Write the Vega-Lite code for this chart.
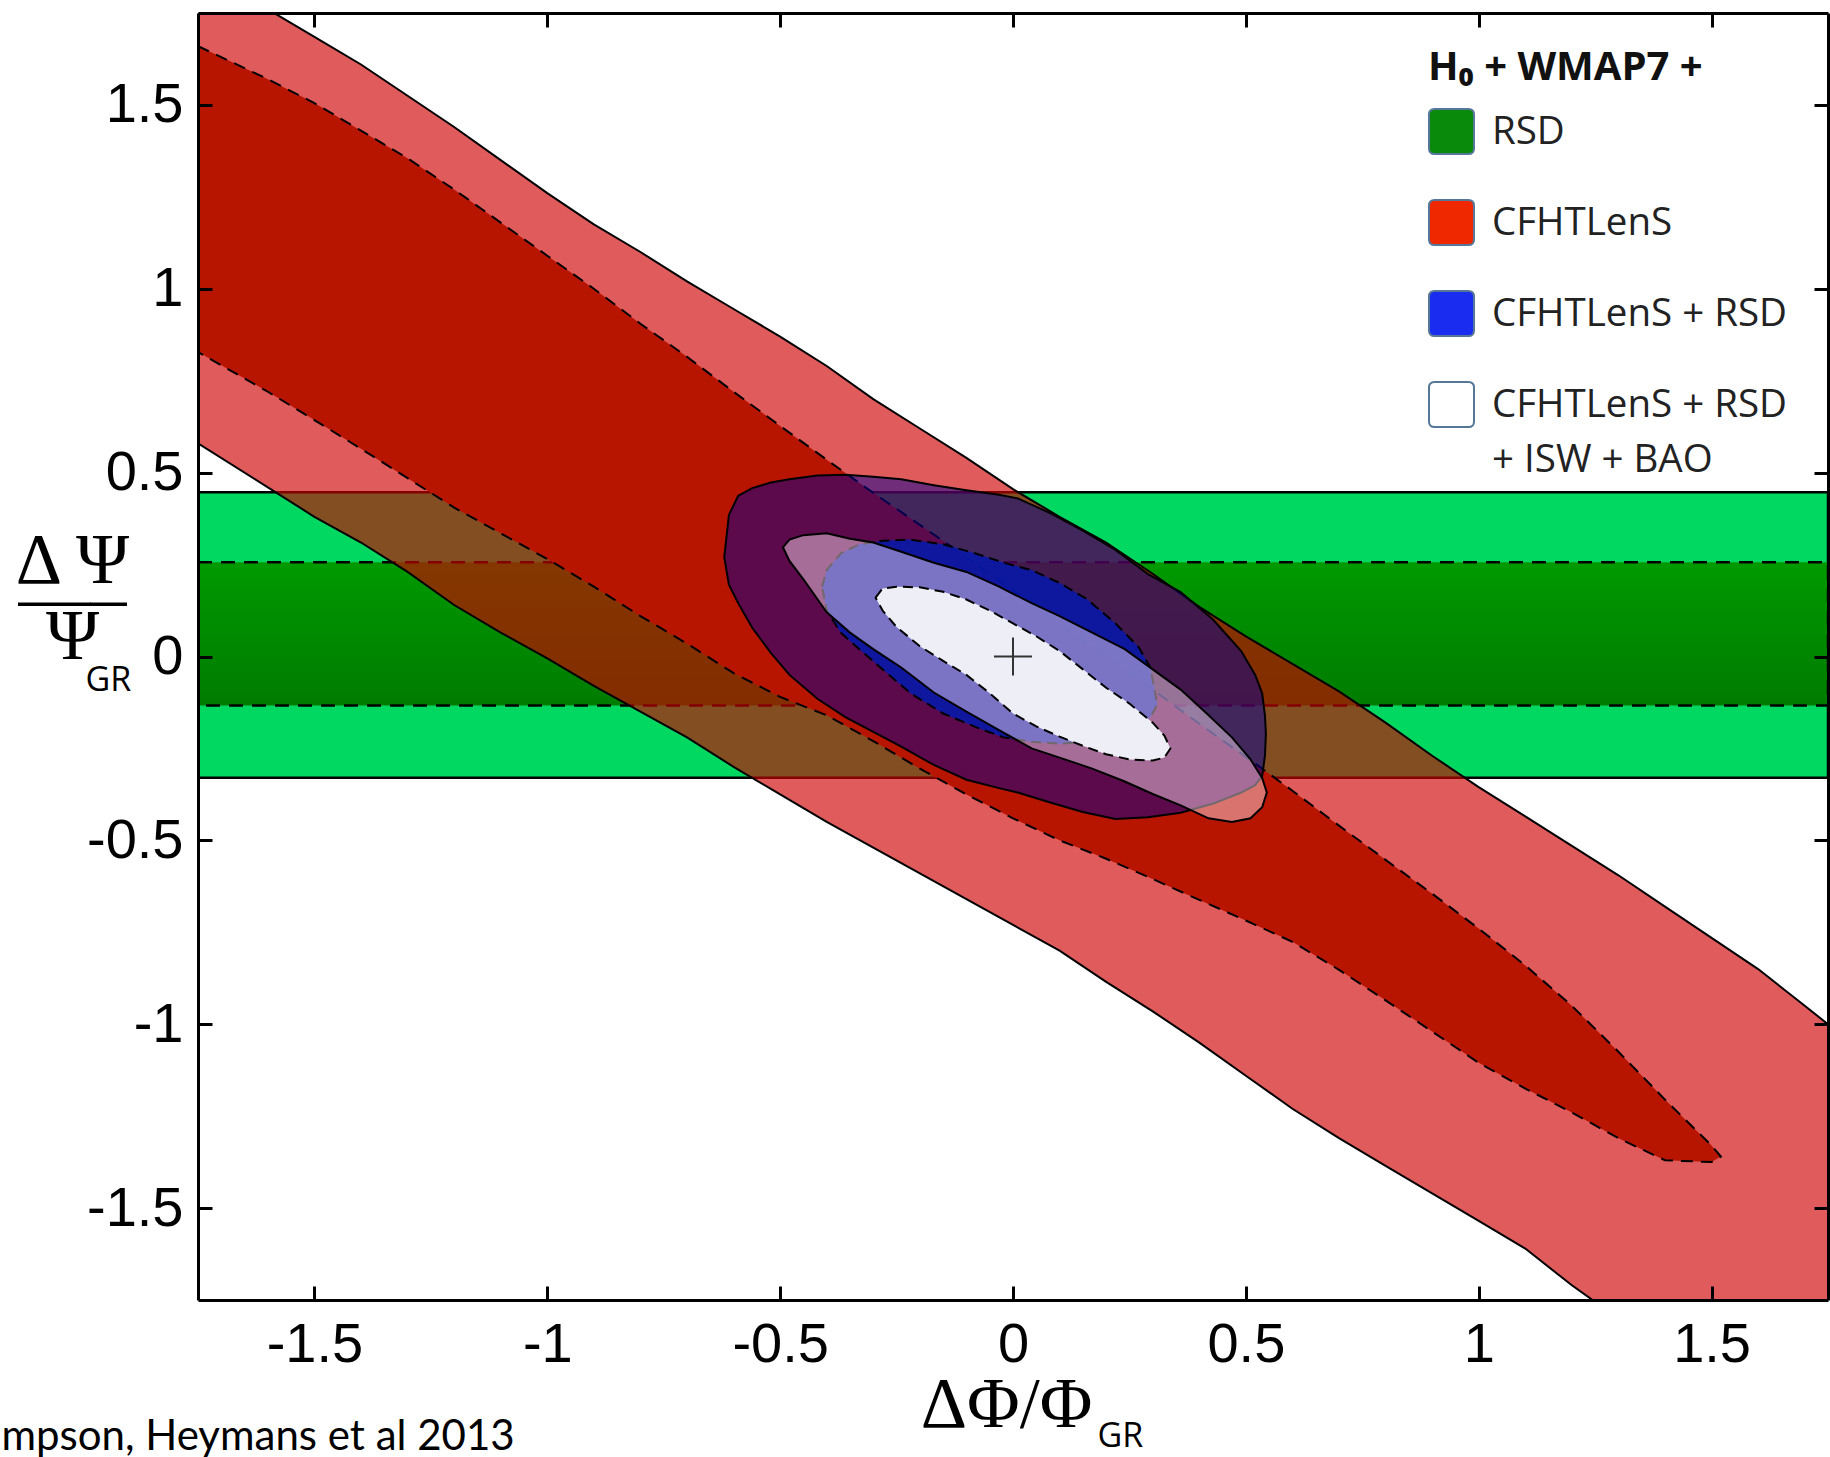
{
  "$schema": "https://vega.github.io/schema/vega-lite/v6.json",
  "width": 1630,
  "height": 1287,
  "autosize": {"type": "none"},
  "padding": {"left": 198, "top": 13, "right": 2, "bottom": 157},
  "background": "white",
  "config": {"view": {"stroke": null}, "style": {"guide-label": {"lineHeight": 55}}},
  "datasets": {
    "rsd2": [{"lo": -0.33, "hi": 0.447}],
    "rsd1": [{"lo": -0.133, "hi": 0.256}],
    "red2": [
      {"x": -1.75, "hi": 1.88, "lo": 0.58}, {"x": -1.6, "hi": 1.76, "lo": 0.46}, {"x": -1.5, "hi": 1.685, "lo": 0.38},
      {"x": -1.4, "hi": 1.61, "lo": 0.31}, {"x": -1.3, "hi": 1.525, "lo": 0.23}, {"x": -1.2, "hi": 1.44, "lo": 0.14},
      {"x": -1.1, "hi": 1.35, "lo": 0.065}, {"x": -1.0, "hi": 1.26, "lo": -0.005}, {"x": -0.9, "hi": 1.175, "lo": -0.08},
      {"x": -0.8, "hi": 1.1, "lo": -0.15}, {"x": -0.7, "hi": 1.02, "lo": -0.22}, {"x": -0.6, "hi": 0.945, "lo": -0.3},
      {"x": -0.5, "hi": 0.87, "lo": -0.375}, {"x": -0.4, "hi": 0.79, "lo": -0.45}, {"x": -0.3, "hi": 0.7, "lo": -0.52},
      {"x": -0.2, "hi": 0.62, "lo": -0.59}, {"x": -0.1, "hi": 0.54, "lo": -0.66}, {"x": 0.0, "hi": 0.455, "lo": -0.73},
      {"x": 0.1, "hi": 0.38, "lo": -0.8}, {"x": 0.2, "hi": 0.31, "lo": -0.885}, {"x": 0.3, "hi": 0.225, "lo": -0.965},
      {"x": 0.4, "hi": 0.135, "lo": -1.05}, {"x": 0.5, "hi": 0.055, "lo": -1.14}, {"x": 0.6, "hi": -0.02, "lo": -1.23},
      {"x": 0.7, "hi": -0.095, "lo": -1.31}, {"x": 0.8, "hi": -0.18, "lo": -1.385}, {"x": 0.9, "hi": -0.27, "lo": -1.46},
      {"x": 1.0, "hi": -0.355, "lo": -1.535}, {"x": 1.1, "hi": -0.435, "lo": -1.61}, {"x": 1.2, "hi": -0.515, "lo": -1.71},
      {"x": 1.3, "hi": -0.595, "lo": -1.8}, {"x": 1.4, "hi": -0.68, "lo": -1.88}, {"x": 1.5, "hi": -0.765, "lo": -1.96},
      {"x": 1.6, "hi": -0.85, "lo": -2.04}, {"x": 1.7, "hi": -0.95, "lo": -2.12}, {"x": 1.75, "hi": -1.0, "lo": -2.16}
    ],
    "red1": [
      {"x": -1.75, "hi": 1.66, "lo": 0.828}, {"x": -1.6, "hi": 1.57, "lo": 0.72}, {"x": -1.5, "hi": 1.505, "lo": 0.643},
      {"x": -1.4, "hi": 1.43, "lo": 0.565}, {"x": -1.3, "hi": 1.355, "lo": 0.485}, {"x": -1.2, "hi": 1.27, "lo": 0.405},
      {"x": -1.1, "hi": 1.18, "lo": 0.335}, {"x": -1.0, "hi": 1.09, "lo": 0.265}, {"x": -0.9, "hi": 1.0, "lo": 0.19},
      {"x": -0.8, "hi": 0.905, "lo": 0.11}, {"x": -0.7, "hi": 0.815, "lo": 0.035}, {"x": -0.6, "hi": 0.72, "lo": -0.045},
      {"x": -0.5, "hi": 0.627, "lo": -0.11}, {"x": -0.4, "hi": 0.535, "lo": -0.16}, {"x": -0.3, "hi": 0.445, "lo": -0.23},
      {"x": -0.2, "hi": 0.358, "lo": -0.305}, {"x": -0.1, "hi": 0.27, "lo": -0.375}, {"x": 0.0, "hi": 0.18, "lo": -0.44},
      {"x": 0.1, "hi": 0.09, "lo": -0.5}, {"x": 0.2, "hi": 0.0, "lo": -0.55}, {"x": 0.3, "hi": -0.09, "lo": -0.605},
      {"x": 0.4, "hi": -0.183, "lo": -0.662}, {"x": 0.5, "hi": -0.273, "lo": -0.718}, {"x": 0.6, "hi": -0.365, "lo": -0.776},
      {"x": 0.7, "hi": -0.46, "lo": -0.852}, {"x": 0.8, "hi": -0.553, "lo": -0.935}, {"x": 0.9, "hi": -0.645, "lo": -1.02},
      {"x": 1.0, "hi": -0.74, "lo": -1.105}, {"x": 1.1, "hi": -0.84, "lo": -1.175}, {"x": 1.2, "hi": -0.95, "lo": -1.24},
      {"x": 1.3, "hi": -1.075, "lo": -1.31}, {"x": 1.4, "hi": -1.205, "lo": -1.37}, {"x": 1.5, "hi": -1.33, "lo": -1.375},
      {"x": 1.52, "hi": -1.36, "lo": -1.36}
    ],
    "blue2": [
      {"x": -0.62, "hi": 0.27, "lo": 0.27}, {"x": -0.61, "hi": 0.385, "lo": 0.195}, {"x": -0.59, "hi": 0.437, "lo": 0.145},
      {"x": -0.56, "hi": 0.458, "lo": 0.078}, {"x": -0.52, "hi": 0.473, "lo": 0.01}, {"x": -0.48, "hi": 0.482, "lo": -0.05},
      {"x": -0.42, "hi": 0.492, "lo": -0.115}, {"x": -0.36, "hi": 0.494, "lo": -0.165}, {"x": -0.3, "hi": 0.489, "lo": -0.205},
      {"x": -0.24, "hi": 0.482, "lo": -0.245}, {"x": -0.17, "hi": 0.466, "lo": -0.295}, {"x": -0.1, "hi": 0.452, "lo": -0.335},
      {"x": -0.03, "hi": 0.44, "lo": -0.358}, {"x": 0.01, "hi": 0.43, "lo": -0.37}, {"x": 0.08, "hi": 0.39, "lo": -0.397},
      {"x": 0.15, "hi": 0.342, "lo": -0.423}, {"x": 0.22, "hi": 0.29, "lo": -0.442}, {"x": 0.29, "hi": 0.224, "lo": -0.437},
      {"x": 0.36, "hi": 0.175, "lo": -0.425}, {"x": 0.43, "hi": 0.1, "lo": -0.4}, {"x": 0.49, "hi": 0.015, "lo": -0.37},
      {"x": 0.52, "hi": -0.05, "lo": -0.35}, {"x": 0.535, "hi": -0.1, "lo": -0.325}, {"x": 0.541, "hi": -0.16, "lo": -0.27},
      {"x": 0.543, "hi": -0.21, "lo": -0.21}
    ],
    "blue1": [
      {"x": -0.41, "hi": 0.19, "lo": 0.19}, {"x": -0.4, "hi": 0.235, "lo": 0.125}, {"x": -0.37, "hi": 0.28, "lo": 0.065},
      {"x": -0.33, "hi": 0.305, "lo": 0.02}, {"x": -0.28, "hi": 0.315, "lo": -0.035}, {"x": -0.22, "hi": 0.318, "lo": -0.1},
      {"x": -0.15, "hi": 0.305, "lo": -0.155}, {"x": -0.08, "hi": 0.28, "lo": -0.192}, {"x": -0.02, "hi": 0.255, "lo": -0.22},
      {"x": 0.04, "hi": 0.235, "lo": -0.232}, {"x": 0.1, "hi": 0.2, "lo": -0.237}, {"x": 0.16, "hi": 0.155, "lo": -0.232},
      {"x": 0.22, "hi": 0.09, "lo": -0.215}, {"x": 0.27, "hi": 0.025, "lo": -0.19}, {"x": 0.295, "hi": -0.03, "lo": -0.165},
      {"x": 0.31, "hi": -0.13, "lo": -0.13}
    ],
    "isw2": [
      {"x": -0.494, "hi": 0.297, "lo": 0.297}, {"x": -0.48, "hi": 0.318, "lo": 0.26}, {"x": -0.45, "hi": 0.33, "lo": 0.21},
      {"x": -0.4, "hi": 0.335, "lo": 0.12}, {"x": -0.35, "hi": 0.32, "lo": 0.065}, {"x": -0.3, "hi": 0.31, "lo": 0.02},
      {"x": -0.24, "hi": 0.285, "lo": -0.03}, {"x": -0.17, "hi": 0.255, "lo": -0.098}, {"x": -0.1, "hi": 0.23, "lo": -0.15},
      {"x": -0.03, "hi": 0.19, "lo": -0.2}, {"x": 0.04, "hi": 0.145, "lo": -0.25}, {"x": 0.1, "hi": 0.11, "lo": -0.275},
      {"x": 0.17, "hi": 0.065, "lo": -0.305}, {"x": 0.24, "hi": 0.02, "lo": -0.34}, {"x": 0.3, "hi": -0.035, "lo": -0.374},
      {"x": 0.36, "hi": -0.09, "lo": -0.405}, {"x": 0.42, "hi": -0.16, "lo": -0.44}, {"x": 0.47, "hi": -0.22, "lo": -0.45},
      {"x": 0.51, "hi": -0.28, "lo": -0.44}, {"x": 0.535, "hi": -0.33, "lo": -0.41}, {"x": 0.545, "hi": -0.37, "lo": -0.37}
    ],
    "isw1": [
      {"x": -0.295, "hi": 0.16, "lo": 0.16}, {"x": -0.28, "hi": 0.185, "lo": 0.125}, {"x": -0.25, "hi": 0.19, "lo": 0.08},
      {"x": -0.2, "hi": 0.188, "lo": 0.028}, {"x": -0.15, "hi": 0.176, "lo": -0.012}, {"x": -0.1, "hi": 0.155, "lo": -0.05},
      {"x": -0.05, "hi": 0.125, "lo": -0.1}, {"x": 0.0, "hi": 0.09, "lo": -0.155}, {"x": 0.05, "hi": 0.055, "lo": -0.19},
      {"x": 0.1, "hi": 0.015, "lo": -0.218}, {"x": 0.15, "hi": -0.035, "lo": -0.243}, {"x": 0.2, "hi": -0.085, "lo": -0.266},
      {"x": 0.25, "hi": -0.128, "lo": -0.28}, {"x": 0.3, "hi": -0.18, "lo": -0.283}, {"x": 0.325, "hi": -0.215, "lo": -0.275},
      {"x": 0.338, "hi": -0.25, "lo": -0.25}
    ],
    "center": [{"x": 0, "y": 0}],
    "legend": [
      {"series": "RSD"}, {"series": "CFHTLenS"}, {"series": "CFHTLenS + RSD"}, {"series": "CFHTLenS + RSD + ISW + BAO"}
    ]
  },
  "resolve": {"axis": {"x": "independent", "y": "independent"}},
  "layer": [
    {
      "data": {"name": "rsd2"},
      "mark": {"type": "rect", "fill": "#00d862", "stroke": "#000", "strokeWidth": 2.5, "clip": true},
      "encoding": {
        "y": {"field": "lo", "type": "quantitative", "scale": {"domain": [-1.75, 1.75], "nice": false, "zero": false}, "axis": null},
        "y2": {"field": "hi"}
      }
    },
    {
      "data": {"name": "rsd1"},
      "mark": {"type": "rect", "fill": {"gradient": "linear", "x1": 0, "y1": 0, "x2": 0, "y2": 1, "stops": [{"offset": 0, "color": "#009a00"}, {"offset": 0.5, "color": "#008a00"}, {"offset": 1, "color": "#007c00"}]}, "stroke": "#000", "strokeWidth": 2.5, "strokeDash": [14, 9], "clip": true},
      "encoding": {
        "y": {"field": "lo", "type": "quantitative", "scale": {"domain": [-1.75, 1.75], "nice": false, "zero": false}, "axis": null},
        "y2": {"field": "hi"}
      }
    },
    {
      "data": {"name": "red2"},
      "mark": {"type": "area", "fill": "#cf0000", "fillOpacity": 0.64, "stroke": "#000", "strokeWidth": 2, "clip": true},
      "encoding": {
        "x": {"field": "x", "type": "quantitative", "scale": {"domain": [-1.75, 1.75], "nice": false, "zero": false},
          "axis": {"orient": "bottom", "values": [-1.5, -1, -0.5, 0, 0.5, 1, 1.5], "labelExpr": "replace(format(datum.value, '~g'), '−', '-')",
            "labelFont": "Liberation Sans", "labelFontSize": 56, "labelLineHeight": 40, "labelColor": "#000", "labelPadding": 31, "labelFlush": false, "labelOverlap": false,
            "tickSize": -14, "tickWidth": 3, "tickColor": "#000", "domain": true, "domainColor": "#000", "domainWidth": 3, "grid": false, "zindex": 2,
            "title": "ΔΦ/Φ", "titleFont": "Liberation Serif", "titleFontSize": 72, "titleFontWeight": "normal", "titleColor": "#000",
            "titleX": 808, "titleY": 126, "titleAlign": "center", "titleBaseline": "alphabetic"}},
        "y": {"field": "hi", "type": "quantitative", "scale": {"domain": [-1.75, 1.75], "nice": false, "zero": false},
          "axis": {"orient": "left", "values": [-1.5, -1, -0.5, 0, 0.5, 1, 1.5], "labelExpr": "replace(format(datum.value, '~g'), '−', '-')",
            "labelFont": "Liberation Sans", "labelFontSize": 56, "labelLineHeight": 40, "labelColor": "#000", "labelPadding": 29, "labelFlush": false, "labelOverlap": false,
            "tickSize": -14, "tickWidth": 3, "tickColor": "#000", "domain": true, "domainColor": "#000", "domainWidth": 3, "grid": false, "zindex": 2,
            "title": ["Δ Ψ", "—–", "Ψ"], "titleFont": "Liberation Serif", "titleFontSize": 72, "titleFontWeight": "normal", "titleColor": "#000",
            "titleAngle": 0, "titleX": -126, "titleY": 569, "titleAlign": "center", "titleBaseline": "alphabetic", "titleLineHeight": 38}},
        "y2": {"field": "lo"}
      }
    },
    {
      "data": {"name": "red1"},
      "mark": {"type": "area", "fill": "#b81500", "stroke": "#000", "strokeWidth": 2, "strokeDash": [12, 8], "clip": true},
      "encoding": {
        "x": {"field": "x", "type": "quantitative", "scale": {"domain": [-1.75, 1.75], "nice": false, "zero": false},
          "axis": {"orient": "top", "values": [-1.5, -1, -0.5, 0, 0.5, 1, 1.5], "labels": false, "tickSize": -14, "tickWidth": 3, "tickColor": "#000",
            "domain": true, "domainColor": "#000", "domainWidth": 3, "grid": false, "zindex": 2, "title": null}},
        "y": {"field": "hi", "type": "quantitative", "scale": {"domain": [-1.75, 1.75], "nice": false, "zero": false},
          "axis": {"orient": "right", "values": [-1.5, -1, -0.5, 0, 0.5, 1, 1.5], "labels": false, "tickSize": -14, "tickWidth": 3, "tickColor": "#000",
            "domain": true, "domainColor": "#000", "domainWidth": 3, "grid": false, "zindex": 2, "title": null}},
        "y2": {"field": "lo"}
      }
    },
    {
      "data": {"name": "blue2"},
      "mark": {"type": "area", "fill": "#000098", "fillOpacity": 0.5, "stroke": "#000", "strokeWidth": 2, "clip": true},
      "encoding": {
        "x": {"field": "x", "type": "quantitative", "scale": {"domain": [-1.75, 1.75], "nice": false, "zero": false},
          "axis": {"orient": "bottom", "domain": false, "ticks": false, "labels": false, "grid": false, "zindex": 2,
            "title": "GR", "titleFont": "Open Sans", "titleFontSize": 34, "titleFontWeight": "normal", "titleColor": "#000",
            "titleX": 899, "titleY": 146, "titleAlign": "left", "titleBaseline": "alphabetic"}},
        "y": {"field": "hi", "type": "quantitative", "scale": {"domain": [-1.75, 1.75], "nice": false, "zero": false},
          "axis": {"orient": "left", "domain": false, "ticks": false, "labels": false, "grid": false, "zindex": 2,
            "title": "GR", "titleFont": "Open Sans", "titleFontSize": 34, "titleFontWeight": "normal", "titleColor": "#000",
            "titleAngle": 0, "titleX": -113, "titleY": 677, "titleAlign": "left", "titleBaseline": "alphabetic"}},
        "y2": {"field": "lo"}
      }
    },
    {
      "data": {"name": "blue1"},
      "mark": {"type": "area", "fill": "#0818a8", "fillOpacity": 0.9, "stroke": "#000", "strokeWidth": 2, "strokeDash": [10, 6], "clip": true},
      "encoding": {
        "x": {"field": "x", "type": "quantitative", "scale": {"domain": [-1.75, 1.75], "nice": false, "zero": false}, "axis": null},
        "y": {"field": "hi", "type": "quantitative", "scale": {"domain": [-1.75, 1.75], "nice": false, "zero": false}, "axis": null},
        "y2": {"field": "lo"}
      }
    },
    {
      "data": {"name": "isw2"},
      "mark": {"type": "area", "fill": "#ffe6f5", "fillOpacity": 0.45, "stroke": "#000", "strokeWidth": 2, "clip": true},
      "encoding": {
        "x": {"field": "x", "type": "quantitative", "scale": {"domain": [-1.75, 1.75], "nice": false, "zero": false}, "axis": null},
        "y": {"field": "hi", "type": "quantitative", "scale": {"domain": [-1.75, 1.75], "nice": false, "zero": false}, "axis": null},
        "y2": {"field": "lo"}
      }
    },
    {
      "data": {"name": "isw1"},
      "mark": {"type": "area", "fill": "#eeeef6", "stroke": "#000", "strokeWidth": 2, "strokeDash": [10, 6], "clip": true},
      "encoding": {
        "x": {"field": "x", "type": "quantitative", "scale": {"domain": [-1.75, 1.75], "nice": false, "zero": false}, "axis": null},
        "y": {"field": "hi", "type": "quantitative", "scale": {"domain": [-1.75, 1.75], "nice": false, "zero": false}, "axis": null},
        "y2": {"field": "lo"}
      }
    },
    {
      "data": {"name": "center"},
      "mark": {"type": "point", "shape": "M-1,0H1M0,-1V1", "size": 1444, "filled": false, "stroke": "#333", "strokeWidth": 2, "opacity": 1},
      "encoding": {
        "x": {"field": "x", "type": "quantitative", "scale": {"domain": [-1.75, 1.75], "nice": false, "zero": false}, "axis": null},
        "y": {"field": "y", "type": "quantitative", "scale": {"domain": [-1.75, 1.75], "nice": false, "zero": false}, "axis": null}
      }
    },
    {
      "data": {"name": "legend"},
      "mark": {"type": "point", "filled": true, "opacity": 0, "shape": "M-0.75,-1H0.75Q1,-1,1,-0.75V0.75Q1,1,0.75,1H-0.75Q-1,1,-1,0.75V-0.75Q-1,-1,-0.75,-1Z"},
      "encoding": {
        "x": {"datum": 0, "type": "quantitative", "scale": {"domain": [-1.75, 1.75], "nice": false, "zero": false},
          "axis": {"orient": "bottom", "domain": false, "ticks": false, "labels": false, "grid": false, "zindex": 2,
            "title": "mpson, Heymans et al 2013", "titleFont": "Lato", "titleFontSize": 42, "titleFontWeight": "normal", "titleColor": "#000",
            "titleX": -197, "titleY": 149, "titleAlign": "left", "titleBaseline": "alphabetic"}},
        "y": {"datum": 0, "type": "quantitative", "scale": {"domain": [-1.75, 1.75], "nice": false, "zero": false}, "axis": null},
        "color": {"field": "series", "type": "nominal",
          "scale": {"domain": ["RSD", "CFHTLenS", "CFHTLenS + RSD", "CFHTLenS + RSD + ISW + BAO"], "range": ["#0a8a0a", "#f02800", "#1a2cf0", "#ffffff"]},
          "legend": {"orient": "none", "legendX": 1230, "legendY": 35, "title": "H₀ + WMAP7 +", "titleLimit": 800,
            "titleFont": "Open Sans", "titleFontSize": 40, "titleFontWeight": "bold", "titleColor": "#111", "titlePadding": 20,
            "symbolType": "M-0.75,-1H0.75Q1,-1,1,-0.75V0.75Q1,1,0.75,1H-0.75Q-1,1,-1,0.75V-0.75Q-1,-1,-0.75,-1Z",
            "symbolSize": 2025, "symbolStrokeColor": "#557799", "symbolStrokeWidth": 2, "symbolOpacity": 1,
            "labelFont": "Open Sans", "labelFontSize": 38.5, "labelColor": "#222", "labelOffset": 17, "rowPadding": 38, "labelLimit": 600,
            "labelExpr": "datum.label == 'CFHTLenS + RSD + ISW + BAO' ? ['CFHTLenS + RSD', '+ ISW + BAO'] : datum.label"}}
      }
    }
  ]
}
